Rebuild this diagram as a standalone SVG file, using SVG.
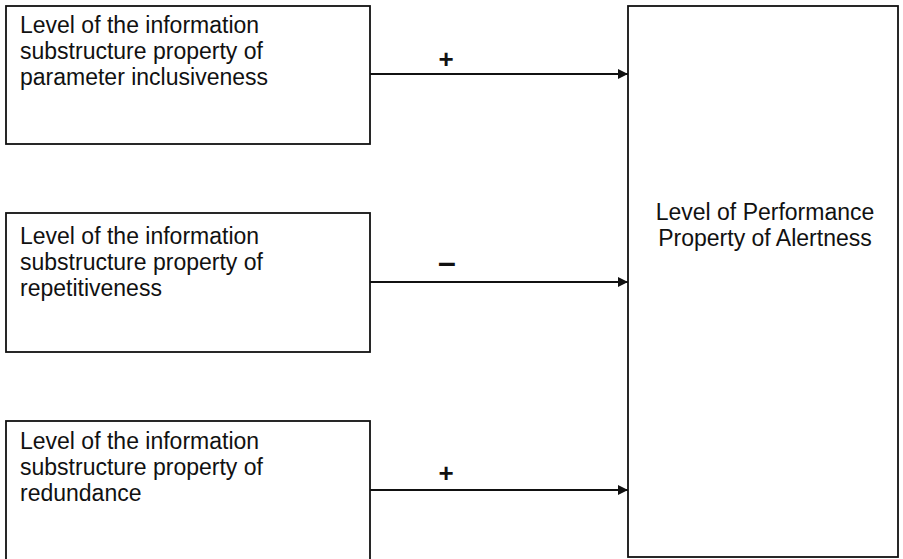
<svg xmlns="http://www.w3.org/2000/svg" width="903" height="559" viewBox="0 0 903 559">
  <style>
    .box { fill: #ffffff; stroke: #111111; stroke-width: 1.8; }
    .lbl { font-family: "Liberation Sans", Arial, sans-serif; font-size: 23px; fill: #111111; }
    .sign { font-family: "Liberation Sans", Arial, sans-serif; font-weight: bold; fill: #111111; text-anchor: middle; }
    .conn { stroke: #111111; stroke-width: 1.8; fill: none; marker-end: url(#arrow); }
  </style>
  <defs>
    <marker id="arrow" viewBox="0 0 10 10" refX="10" refY="5" markerUnits="userSpaceOnUse" markerWidth="12" markerHeight="10" orient="auto">
      <path d="M0,0 L10,5 L0,10 Z" fill="#111111"/>
    </marker>
  </defs>
  <rect width="903" height="559" fill="#ffffff"/>

  <g id="node-inclusiveness">
    <rect class="box" x="6" y="6" width="364" height="138"/>
    <text class="lbl" x="20" y="33">Level of the information</text>
    <text class="lbl" x="20" y="59">substructure property of</text>
    <text class="lbl" x="20" y="85">parameter inclusiveness</text>
  </g>

  <g id="node-repetitiveness">
    <rect class="box" x="6" y="213" width="364" height="139"/>
    <text class="lbl" x="20" y="244">Level of the information</text>
    <text class="lbl" x="20" y="270">substructure property of</text>
    <text class="lbl" x="20" y="296">repetitiveness</text>
  </g>

  <g id="node-redundance">
    <rect class="box" x="6" y="421" width="364" height="145"/>
    <text class="lbl" x="20" y="449">Level of the information</text>
    <text class="lbl" x="20" y="475">substructure property of</text>
    <text class="lbl" x="20" y="501">redundance</text>
  </g>

  <g id="node-alertness">
    <rect class="box" x="628" y="6" width="270" height="551"/>
    <text class="lbl" x="765" y="220" text-anchor="middle">Level of Performance</text>
    <text class="lbl" x="765" y="246" text-anchor="middle">Property of Alertness</text>
  </g>

  <g id="connectors">
    <line class="conn" x1="370" y1="74" x2="628" y2="74"/>
    <line class="conn" x1="370" y1="282" x2="628" y2="282"/>
    <line class="conn" x1="370" y1="490" x2="628" y2="490"/>
    <text class="sign" x="446" y="68" font-size="26">+</text>
    <text class="sign" x="447" y="273" font-size="32" font-weight="normal">–</text>
    <text class="sign" x="446" y="482" font-size="26">+</text>
  </g>
</svg>
